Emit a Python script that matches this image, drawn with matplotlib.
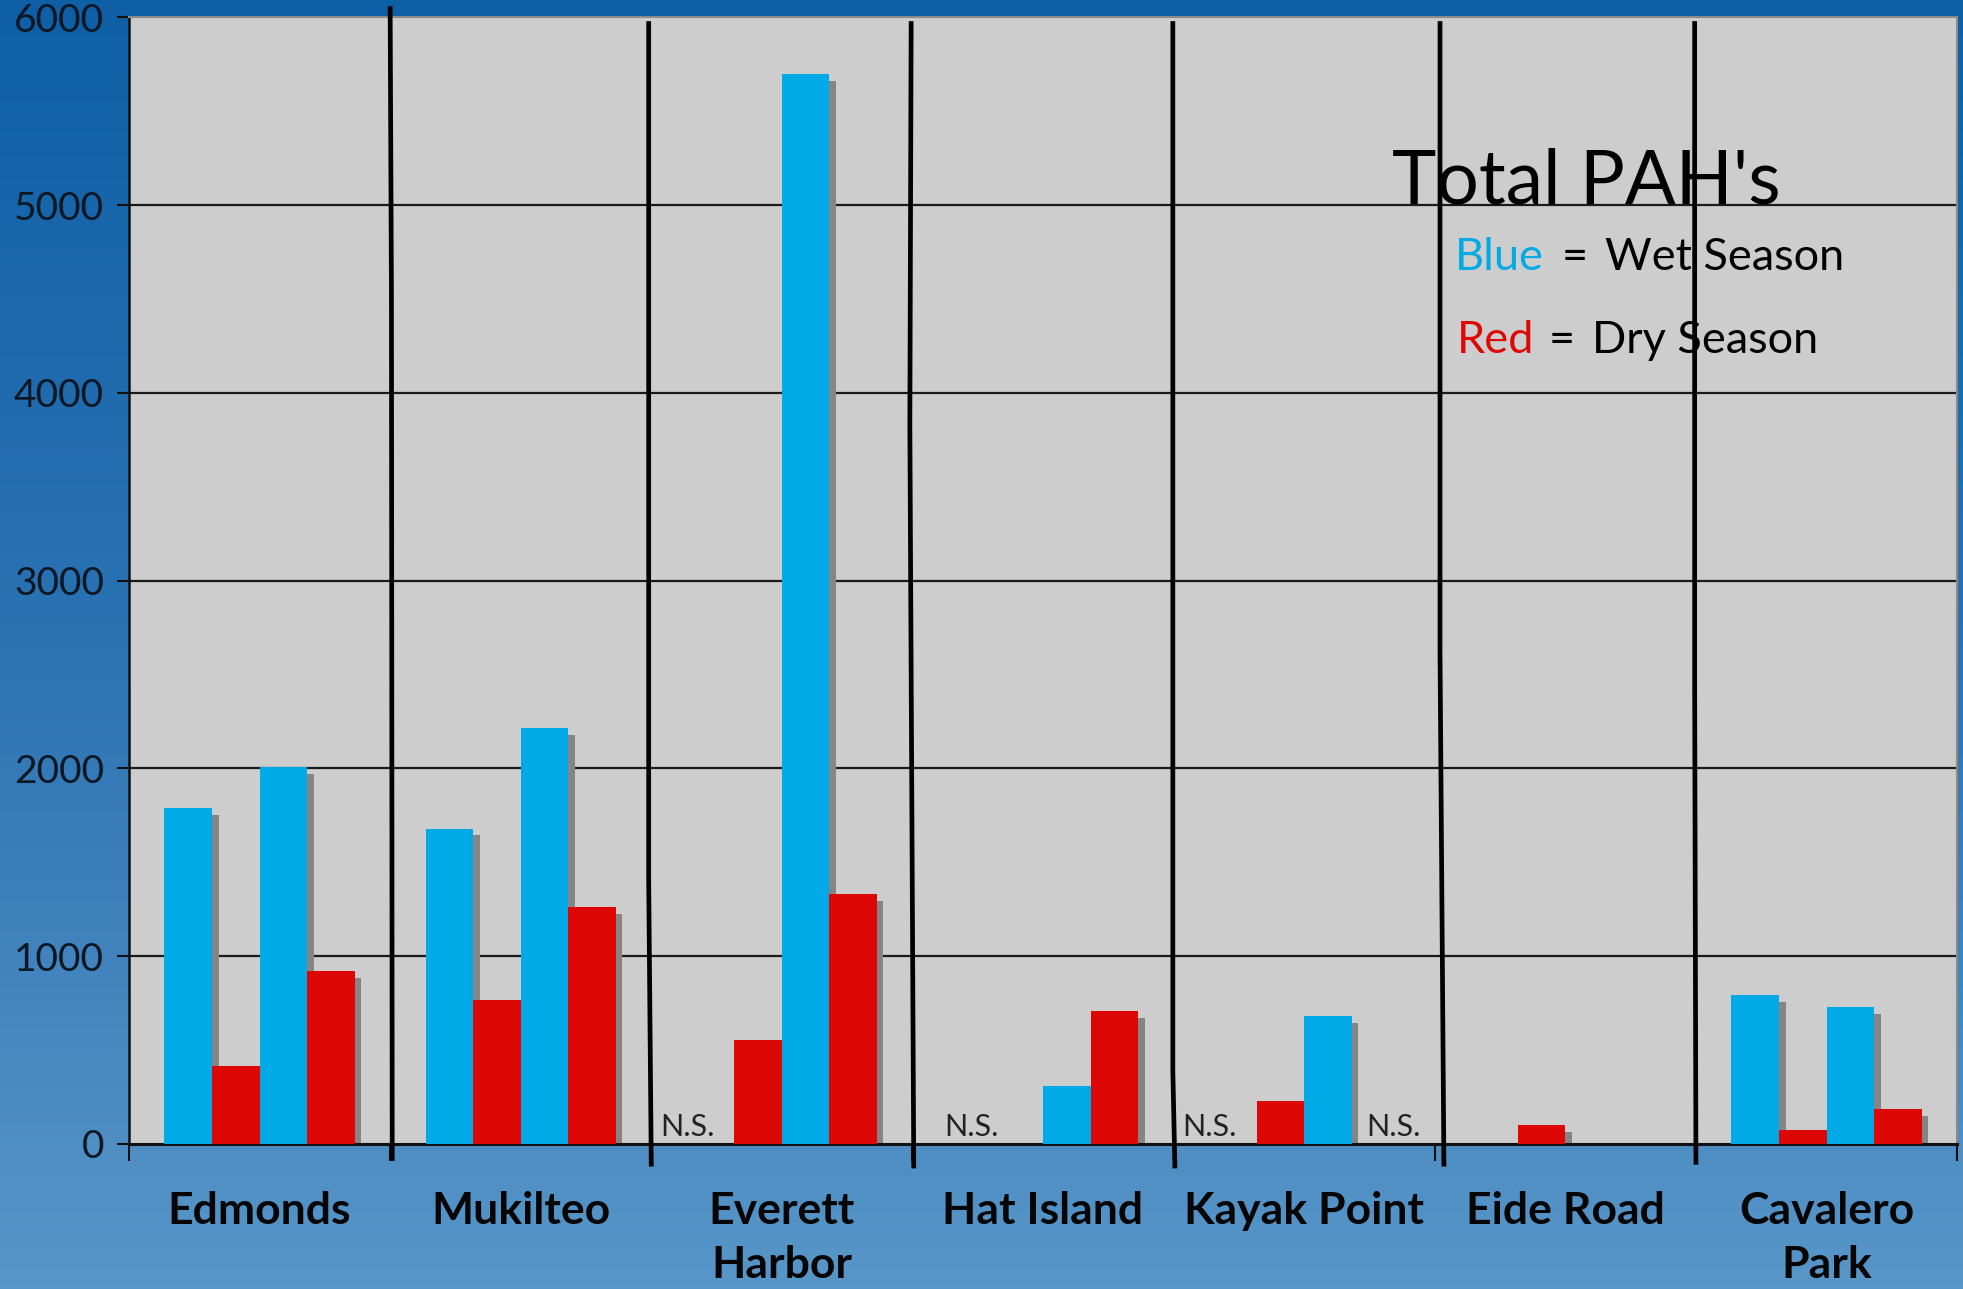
import numpy as np
import matplotlib
matplotlib.use("Agg")
import matplotlib.pyplot as plt
from matplotlib.colors import LinearSegmentedColormap

# ---------------- data ----------------
sites = ["Edmonds", "Mukilteo", "Everett\nHarbor", "Hat Island",
         "Kayak Point", "Eide Road", "Cavalero\nPark"]
# four bars per site: wet, dry, wet, dry  (nan = no bar)
wet_1 = [1790, 1680, np.nan, np.nan, np.nan, np.nan, 793]
dry_1 = [413, 767, 553, np.nan, 227, 100, 73]
wet_2 = [2007, 2213, 5700, 307, 680, np.nan, 727]
dry_2 = [920, 1260, 1333, 707, np.nan, np.nan, 187]
# not sampled: (site index, slot index)
not_sampled = [(2, 0), (3, 0), (4, 0), (4, 3)]
y_ticks = [0, 1000, 2000, 3000, 4000, 5000, 6000]

title_text = "Total PAH's"

BLUE = "#00AAE6"
RED = "#DD0806"
SHADOW = "#858585"

plt.rcParams['font.family'] = ['Lato', 'DejaVu Sans']

fig = plt.figure(figsize=(19.63, 12.89), dpi=100)

# background gradient
bg = fig.add_axes([0, 0, 1, 1], zorder=-10)
cmap = LinearSegmentedColormap.from_list("bg", ["#0E5FA6", "#2B73B3", "#5896C8"])
grad = np.linspace(0, 1, 256).reshape(-1, 1)
bg.imshow(grad, aspect="auto", cmap=cmap, extent=[0, 1, 0, 1], origin="upper")
bg.set_axis_off()

ax = fig.add_axes([0.0657, 0.1125, 0.9313, 0.874])
ax.set_facecolor("#CDCDCD")

series = [(wet_1, BLUE), (dry_1, RED), (wet_2, BLUE), (dry_2, RED)]
w = 0.182
offsets = [-1.5 * w, -0.5 * w, 0.5 * w, 1.5 * w]
x = np.arange(len(sites))
dx_sh = 0.025
dv_sh = 37

# gridlines
for yv in y_ticks[1:-1]:
    ax.axhline(yv, color="#1a1a1a", lw=1.6, zorder=1)

for (vals, col), off in zip(series, offsets):
    v = np.array(vals, dtype=float)
    ax.bar(x + off + dx_sh, np.clip(v - dv_sh, 0, None), width=w, color=SHADOW,
           zorder=2, linewidth=0)
for (vals, col), off in zip(series, offsets):
    v = np.array(vals, dtype=float)
    ax.bar(x + off, v, width=w, color=col, zorder=3, linewidth=0)

ns_nudge = {(2, 0): -0.09, (3, 0): 0.0, (4, 0): -0.09, (4, 3): 0.07}
for (si, sl) in not_sampled:
    ax.annotate("N.S.", xy=(x[si] + offsets[sl] + ns_nudge[(si, sl)], 0),
                xytext=(0, 2), textcoords="offset points",
                ha="center", va="bottom", fontsize=22, color="#222222", zorder=4)

ax.set_xlim(-0.5, len(sites) - 0.5)
ax.set_ylim(0, 6000)
ax.set_yticks(y_ticks)
ax.set_yticklabels([str(t) for t in y_ticks], fontsize=28, color="#0c1724")
ax.tick_params(axis="y", direction="out", length=9, width=1.5, color="#111111", pad=9)

ax.set_xticks(x)
ax.set_xticklabels(sites, fontsize=32, fontweight="bold", color="#050505",
                   linespacing=1.42)
ax.tick_params(axis="x", which="major", length=0, pad=34)
ax.set_xticks(np.arange(-0.5, len(sites), 1.0), minor=True)
ax.tick_params(axis="x", which="minor", direction="out", length=12, width=1.5,
               color="#111111")

ax.spines["left"].set_color("#111111")
ax.spines["left"].set_linewidth(1.8)
ax.spines["bottom"].set_color("#111111")
ax.spines["bottom"].set_linewidth(2.2)
ax.spines["top"].set_color("#8a8a8a")
ax.spines["top"].set_linewidth(1.5)
ax.spines["right"].set_color("#8a8a8a")
ax.spines["right"].set_linewidth(1.5)

# hand-drawn separators between sites (slightly wobbly)
seps = [
    ([0.50, 0.505, 0.508], [6060, 4530, -90]),
    ([1.49, 1.49, 1.50], [5980, 1410, -120]),
    ([2.495, 2.49, 2.505], [5980, 3830, -130]),
    ([3.497, 3.497, 3.505], [5980, 390, -130]),
    ([4.52, 4.52, 4.535], [5980, 2620, -120]),
    ([5.495, 5.495, 5.50], [5980, 2480, -110]),
]
for xs, ys in seps:
    ax.plot(xs, ys, color="black", lw=3.4, zorder=5, clip_on=False,
            solid_capstyle="butt")

# legend-like annotation text
fig.text(0.709, 0.8425, title_text, fontsize=54, color="black", va="baseline")
fig.text(0.741, 0.7905, "Blue", fontsize=32.5, color=BLUE, va="baseline")
fig.text(0.7955, 0.7905, "=", fontsize=32.5, color="black", va="baseline")
fig.text(0.8175, 0.7905, "Wet Season", fontsize=32.5, color="black", va="baseline")
fig.text(0.742, 0.7265, "Red", fontsize=32.5, color=RED, va="baseline")
fig.text(0.789, 0.7265, "=", fontsize=32.5, color="black", va="baseline")
fig.text(0.811, 0.7265, "Dry Season", fontsize=32.5, color="black", va="baseline")

fig.savefig("out.png", dpi=100)
